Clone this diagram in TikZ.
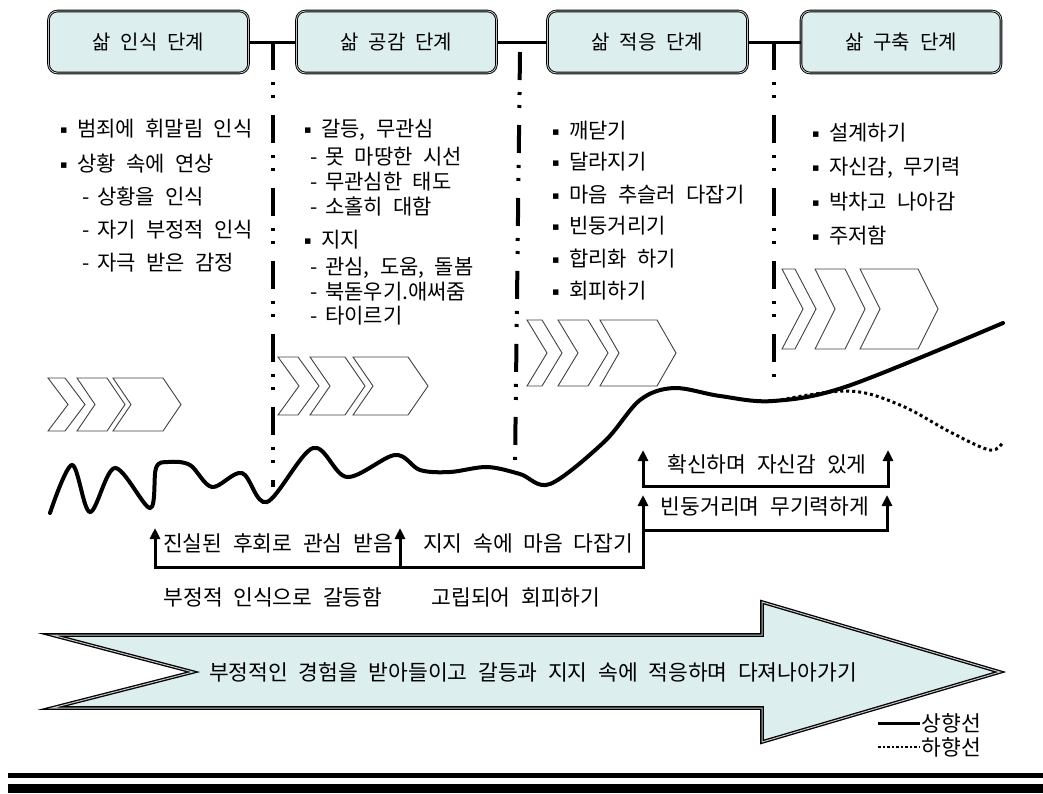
\documentclass[tikz,border=0pt]{standalone}
\usepackage{fontspec}
\setmainfont{Noto Sans CJK KR}[WordSpace=2.2]
\newfontfamily\symfont{DejaVu Sans}
\usepackage{tikz}
\usetikzlibrary{calc}
\usetikzlibrary{arrows.meta}

\definecolor{paleblue}{RGB}{221,238,238}

\tikzset{
  stagebox/.style={draw=black, double=gray!45, double distance=0.8pt, line width=0.9pt, rounded corners=9pt, fill=paleblue, minimum width=200pt, minimum height=62pt, font=\fontsize{20}{22}\selectfont},
  divider/.style={line width=4pt, dash pattern=on 28pt off 12pt on 3pt off 10pt on 3pt off 17pt},
  link/.style={line width=3pt},
  upline/.style={line width=4pt, line cap=round},
  downline/.style={line width=3pt, dash pattern=on 3pt off 3pt},
  stepline/.style={line width=3pt, arrows={-Triangle[width=10pt,length=11pt]}},
  steptext/.style={inner sep=0pt, font=\fontsize{21.5}{23}\selectfont},
  bigarrow/.style={draw=black, double=gray!45, double distance=1pt, line width=1.3pt, fill=paleblue}
}

\newcommand{\chev}[5]{\draw[black!75, line width=0.9pt] ( #1 , #2 ) -- ( #1 + #4 , #2 ) -- ( #1 + #4 + #5 , #2 * 0.5 + #3 * 0.5 ) -- ( #1 + #4 , #3 ) -- ( #1 , #3 ) -- ( #1 + #5 , #2 * 0.5 + #3 * 0.5 ) -- cycle;}
\newcommand{\bulitem}[4]{\node[anchor=west, inner sep=0pt, text height=15pt, text depth=4pt, font=\fontsize{21}{23}\selectfont] (#1) at ( #2 , #3 ) {\makebox[17pt][l]{\raisebox{3pt}{\symfont\fontsize{11}{11}\selectfont ▪}}#4};}
\newcommand{\dashitem}[4]{\node[anchor=west, inner sep=0pt, text height=15pt, text depth=4pt, font=\fontsize{21}{23}\selectfont] (#1) at ( #2 , #3 ) {\makebox[15pt][l]{-}#4};}

\begin{document}
\begin{tikzpicture}[x=1pt, y=-1pt]
        \useasboundingbox (0,0) rectangle (1043,793);

        % stage boxes
        \node[stagebox] (b1) at (148.5,42) {삶 인식 단계};
        \node[stagebox] (b2) at (396.5,42) {삶 공감 단계};
        \node[stagebox] (b3) at (647.5,42) {삶 적응 단계};
        \node[stagebox] (b4) at (901,42) {삶 구축 단계};

        \draw[link] (b1) -- (b2);
        \draw[link] (b2) -- (b3);
        \draw[link] (b3) -- (b4);

        % dividers
        \coordinate (t1) at ($(b1.east)!0.5!(b2.west)$);
        \coordinate (t3) at ($(b3.east)!0.5!(b4.west)$);
        \coordinate (m1) at (520,52);
        \coordinate (m2) at (515,465);
        \draw[divider] (t1) -- ++(0,445);
        \draw[divider] (m1) -- (m2);
        \draw[divider] (t3) -- ++(0,338);

        % column 1
        \bulitem{c1a}{60}{131}{범죄에 휘말림 인식}
        \bulitem{c1b}{60}{166}{상황 속에 연상}
        \dashitem{c1c}{82}{199}{상황을 인식}
        \dashitem{c1d}{82}{232}{자기 부정적 인식}
        \dashitem{c1e}{82}{265}{자극 받은 감정}

        % column 2
        \bulitem{c2a}{304}{131}{갈등, 무관심}
        \dashitem{c2b}{310}{159}{못 마땅한 시선}
        \dashitem{c2c}{310}{184}{무관심한 태도}
        \dashitem{c2d}{310}{209}{소홀히 대함}
        \bulitem{c2e}{304}{242}{지지}
        \dashitem{c2f}{310}{269}{관심, 도움, 돌봄}
        \dashitem{c2g}{310}{294}{북돋우기.애써줌}
        \dashitem{c2h}{310}{318}{타이르기}

        % column 3
        \bulitem{c3a}{552}{133}{깨닫기}
        \bulitem{c3b}{552}{164}{달라지기}
        \bulitem{c3c}{552}{197}{마음 추슬러 다잡기}
        \bulitem{c3d}{552}{228}{빈둥거리기}
        \bulitem{c3e}{552}{261}{합리화 하기}
        \bulitem{c3f}{552}{293}{회피하기}

        % column 4
        \bulitem{c4a}{812}{135}{설계하기}
        \bulitem{c4b}{812}{169}{자신감, 무기력}
        \bulitem{c4c}{812}{204}{박차고 나아감}
        \bulitem{c4d}{812}{238}{주저함}

        % chevrons
        \chev{48}{378}{431}{17}{20}
        \chev{77}{378}{431}{30}{18}
        \chev{113}{378}{431}{50}{18}

        \chev{278}{357}{415}{20}{21}
        \chev{310}{357}{415}{35}{20}
        \chev{353}{357}{415}{55}{20}

        \chev{527}{320}{386}{15}{20}
        \chev{558}{320}{386}{30}{20}
        \chev{600}{320}{386}{57}{19}

        \chev{782}{269}{349}{13}{21}
        \chev{815}{269}{349}{30}{20}
        \chev{860}{269}{349}{58}{20}

        % life line
        \draw[upline] plot[smooth, tension=0.55] coordinates {(50,513) (72,465) (90,512) (115,468) (150,508) (156,468) (168,462) (190,465) (212,487) (242,473) (267,502) (313,448) (347,477) (395,455) (420,470) (450,472) (487,467) (520,474) (550,484) (604,442) (640,400) (674,388) (720,396) (773,401) (848,386) (1003,323)};
        \draw[downline] plot[smooth, tension=0.6] coordinates {(775,401) (848,391) (900,405) (952,433) (990,450) (1003,442)};

        % steps
        \coordinate (pa) at (155,528);
        \coordinate (pb) at (155,567);
        \coordinate (pc) at (400,528);
        \coordinate (pd) at (400,567);
        \coordinate (pe) at (643,567);
        \coordinate (pf) at (643,495);
        \coordinate (pg) at (643,530);
        \coordinate (ph) at (887,530);
        \coordinate (pi) at (887,495);
        \draw[stepline, arrows={Triangle[width=10pt,length=11pt]-Triangle[width=10pt,length=11pt]}] (pa) -- (pb) -- (pe) -- (pf);
        \draw[stepline] (pd) -- (pc);
        \draw[stepline] (pg) -- (ph) -- (pi);

        \coordinate (qa) at (643,450);
        \coordinate (qb) at (643,486);
        \coordinate (qc) at (888,486);
        \coordinate (qd) at (888,450);
        \draw[stepline, arrows={Triangle[width=10pt,length=11pt]-Triangle[width=10pt,length=11pt]}] (qa) -- (qb) -- (qc) -- (qd);

        \node[steptext] (s1) at (278,543) {진실된 후회로 관심 받음};
        \node[steptext] (s2) at (528,543) {지지 속에 마음 다잡기};
        \node[steptext] (s3) at (273,597) {부정적 인식으로 갈등함};
        \node[steptext] (s4) at (516,597) {고립되어 회피하기};
        \node[steptext] (s5) at (765,506) {빈둥거리며 무기력하게};
        \node[steptext] (s6) at (767,464) {확신하며 자신감 있게};

        % big arrow
        \draw[bigarrow] (52,635) -- (762,635) -- (762,602) -- (1000,672) -- (762,742) -- (762,708) -- (52,708) -- (193,672) -- cycle;
        \node[steptext] (goal) at (533,672) {부정적인 경험을 받아들이고 갈등과 지지 속에 적응하며 다져나아가기};

        % legend
        \coordinate (la) at (878,723);
        \coordinate (lb) at (920,723);
        \coordinate (lc) at (878,747);
        \coordinate (ld) at (920,747);
        \draw[line width=3pt] (la) -- (lb);
        \draw[line width=2.5pt, dash pattern=on 2.5pt off 2pt] (lc) -- (ld);
        \node[steptext, anchor=west, inner sep=1.5pt] (up) at (lb) {상향선};
        \node[steptext, anchor=west, inner sep=1.5pt] (down) at (ld) {하향선};

        % bottom bars
        \fill (8,773) rectangle (1043,778);
        \fill (8,784) rectangle (1043,793);
    \end{tikzpicture}
\end{document}
